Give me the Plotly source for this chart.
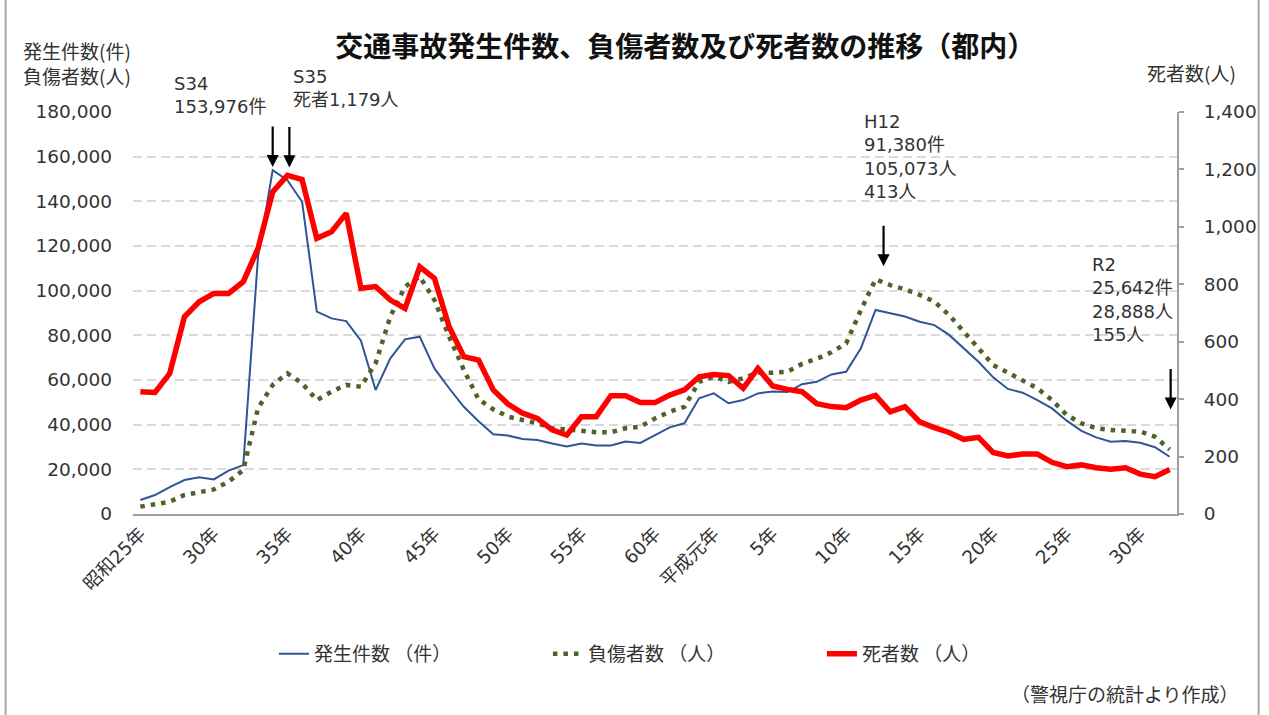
import plotly.graph_objects as go

# ---------------- data ----------------
years = list(range(1950, 2021))

accidents = [6300, 8500, 12000, 15200, 16400, 15500, 19400, 21900, 115000, 153976,
             149500, 139800, 90600, 87600, 86400, 77600, 55500, 69700, 78200, 79400,
             65200, 56300, 48000, 41500, 35700, 35100, 33600, 33100, 31600, 30200,
             31600, 30700, 30700, 32500, 31800, 35400, 38800, 40600, 51800, 54000,
             49600, 51000, 54000, 54900, 54600, 58100, 59200, 62500, 63700, 74200,
             91380, 89900, 88400, 86100, 84600, 80200, 74200, 68200, 61200, 56000,
             54300, 51000, 47300, 41800, 37200, 34300, 32400, 32700, 31900, 29900, 25642]

injuries = [3300, 4300, 5500, 8500, 9700, 11000, 14500, 19700, 47300, 57800,
            63000, 58500, 51000, 54800, 57800, 57000, 67500, 88400, 101800, 106300,
            95800, 79400, 64500, 51300, 46900, 43600, 42100, 40600, 38400, 37600,
            37300, 36600, 36600, 38400, 39100, 42800, 45800, 48000, 59200, 61500,
            59200, 60800, 63300, 63300, 63700, 67200, 69500, 72400, 76400, 91300,
            105073, 102500, 100600, 98100, 95100, 89100, 81600, 74200, 66700, 63300,
            60000, 56300, 51000, 44300, 40600, 38400, 37600, 37300, 36900, 34600, 28888]

deaths = [426, 423, 490, 687, 739, 768, 768, 809, 925, 1122,
          1179, 1165, 960, 983, 1047, 786, 792, 745, 716, 861,
          821, 652, 548, 536, 432, 383, 351, 333, 293, 275,
          339, 339, 412, 412, 388, 388, 414, 432, 478, 486,
          482, 438, 507, 446, 434, 426, 384, 374, 370, 397,
          413, 356, 374, 321, 301, 284, 260, 267, 214, 202,
          209, 209, 180, 165, 171, 161, 156, 161, 139, 130, 155]

tick_years = [1950, 1955, 1960, 1965, 1970, 1975, 1980, 1985, 1989,
              1993, 1998, 2003, 2008, 2013, 2018]
tick_text = ["昭和25年", "30年", "35年", "40年", "45年", "50年", "55年", "60年",
             "平成元年", "5年", "10年", "15年", "20年", "25年", "30年"]

series_names = ["発生件数 （件）", "負傷者数 （人）", "死者数 （人）"]

# ---------------- style ----------------
FONT = "DejaVu Sans, Noto Sans CJK JP, sans-serif"
CJK = "Noto Sans CJK JP, sans-serif"
TXT = "#333333"
AXIS = "#a0a0a0"

fig = go.Figure()
fig.add_trace(go.Scatter(x=years, y=accidents, name=series_names[0], mode="lines",
                         line=dict(color="#2f5597", width=2), yaxis="y"))
fig.add_trace(go.Scatter(x=years, y=injuries, name=series_names[1], mode="lines",
                         line=dict(color="#4f6228", width=4.5, dash="4.5px,6px"), yaxis="y"))
fig.add_trace(go.Scatter(x=years, y=deaths, name=series_names[2], mode="lines",
                         line=dict(color="#ff0000", width=5.5), yaxis="y2"))

fig.update_layout(
    width=1269, height=715, autosize=False,
    margin=dict(l=133, r=87, t=112, b=201),
    paper_bgcolor="white", plot_bgcolor="white",
    font=dict(family=FONT, size=18.5, color=TXT),
    title=dict(text="<b>交通事故発生件数、負傷者数及び死者数の推移（都内）</b>",
               font=dict(family=CJK, size=28, color="#111111"),
               xref="container", x=0.54, xanchor="center",
               yref="container", y=1 - 47 / 715, yanchor="middle"),
    xaxis=dict(range=[1949.5, 2020.5], tickvals=tick_years, ticktext=tick_text,
               tickangle=-45, showgrid=False, zeroline=False,
               showline=True, linecolor=AXIS, linewidth=2, ticks="",
               tickfont=dict(family=FONT, size=18.5, color=TXT)),
    yaxis=dict(range=[0, 180000], dtick=20000, tickformat=",d",
               showgrid=True, gridcolor="#d9d9d9", gridwidth=1.5, griddash="9px,5px",
               zeroline=False, showline=False, ticks="",
               ticklabelstandoff=20,
               tickfont=dict(family=FONT, size=18.5, color=TXT)),
    yaxis2=dict(range=[0, 1400], dtick=200, tickformat=",d", overlaying="y", side="right",
                showgrid=False, zeroline=False, showline=True, linecolor=AXIS, linewidth=2,
                ticks="outside", ticklen=5, tickwidth=2, tickcolor=AXIS,
                ticklabelstandoff=16,
                tickfont=dict(family=FONT, size=18.5, color=TXT)),
    legend=dict(orientation="h", x=0.135, xanchor="left", y=-0.348, yanchor="middle",
                font=dict(family=CJK, size=19, color=TXT), entrywidth=229,
                bgcolor="rgba(0,0,0,0)"),
    showlegend=True,
)

ann_font = dict(family=FONT, size=18, color=TXT)
# text blocks
fig.add_annotation(xref="paper", yref="paper", x=-0.107, y=1.1915, xanchor="left", yanchor="top",
                   text="発生件数(件)<br>負傷者数(人)", showarrow=False, align="left",
                   font=dict(family=CJK, size=19, color=TXT))
fig.add_annotation(xref="paper", yref="paper", x=1.058, y=1.0995, xanchor="right", yanchor="middle",
                   text="死者数(人)", showarrow=False, font=dict(family=CJK, size=19, color=TXT))
fig.add_annotation(xref="paper", yref="paper", x=0.0372, y=1.102, xanchor="left", yanchor="top",
                   text="S34<br>153,976件", showarrow=False, align="left", font=ann_font)
fig.add_annotation(xref="paper", yref="paper", x=0.1516, y=1.1194, xanchor="left", yanchor="top",
                   text="S35<br>死者1,179人", showarrow=False, align="left", font=ann_font)
fig.add_annotation(xref="paper", yref="paper", x=0.6978, y=1.0075, xanchor="left", yanchor="top",
                   text="H12<br>91,380件<br>105,073人<br>413人", showarrow=False, align="left", font=ann_font)
fig.add_annotation(xref="paper", yref="paper", x=0.917, y=0.6517, xanchor="left", yanchor="top",
                   text="R2<br>25,642件<br>28,888人<br>155人", showarrow=False, align="left", font=ann_font)
fig.add_annotation(xref="paper", yref="paper", x=1.061, y=-0.4453, xanchor="right", yanchor="middle",
                   text="（警視庁の統計より作成）", showarrow=False, font=dict(family=CJK, size=19, color=TXT))

# arrows pointing at the highlighted data points
arrow = dict(showarrow=True, arrowhead=2, arrowsize=1.1, arrowwidth=2.2, arrowcolor="black",
             text="", ax=0, ay=-42)
fig.add_annotation(x=years[9], y=accidents[9], xref="x", yref="y", yshift=3, **arrow)
fig.add_annotation(x=years[10], y=deaths[10], xref="x", yref="y2", yshift=8, xshift=2, **arrow)
fig.add_annotation(x=years[50], y=injuries[50], xref="x", yref="y", yshift=13, xshift=8, **arrow)
fig.add_annotation(x=years[70], y=injuries[70], xref="x", yref="y", yshift=40, xshift=1, **arrow)

# outer frame sides
for xp in [(5 - 133) / 1049, (1264 - 133) / 1049]:
    fig.add_shape(type="line", xref="paper", yref="paper", x0=xp, x1=xp,
                  y0=(514 - 0) / 402, y1=(514 - 715) / 402,
                  line=dict(color="#a6a6a6", width=2))

fig.write_html("out.html", config={"displayModeBar": False},
               post_script="document.body.style.margin='0';document.body.style.overflow='hidden';")
